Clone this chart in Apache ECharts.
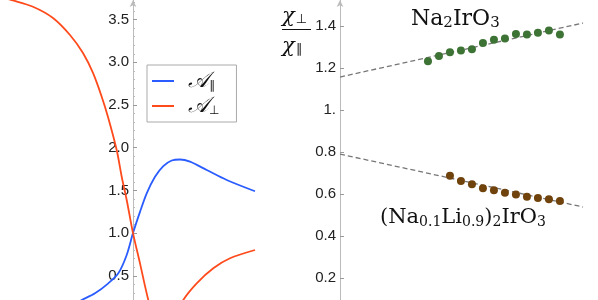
<!DOCTYPE html>
<html><head><meta charset="utf-8">
<script src="https://cdn.jsdelivr.net/npm/echarts@6/dist/echarts.min.js"></script>
<style>html,body{margin:0;padding:0;background:#fff}#c{width:598px;height:300px}</style>
</head><body><div id="c"></div>
<script>
// Left panel: A_parallel and A_perp curves (arbitrary x units, axis at x=0)
const paraX = [-2.66, -1.46, -1.026, -0.76, -0.494, -0.294, -0.126, 0, 0.14, 0.274, 0.44, 0.606, 0.774, 0.94, 1.14, 1.474, 1.874, 2.44];
const paraY = [0.01, 0.088, 0.217, 0.295, 0.412, 0.529, 0.744, 1.0, 1.249, 1.466, 1.660, 1.785, 1.850, 1.862, 1.836, 1.739, 1.622, 1.490];
const perpX = [-2.66, -2.426, -2.0, -1.6, -1.26, -1.0, -0.8, -0.626, -0.5, -0.326, -0.226, -0.126, 0, 0.14, 0.306, 0.44, 0.64, 0.84, 1.006, 1.274, 1.606, 1.94, 2.44];
const perpY = [3.765, 3.729, 3.651, 3.519, 3.320, 3.109, 2.875, 2.597, 2.360, 1.973, 1.660, 1.388, 1.0, 0.646, 0.217, -0.04, -0.13, 0.006, 0.217, 0.412, 0.588, 0.705, 0.802];
const leftTicks = [0.5, 1.0, 1.5, 2.0, 2.5, 3.0, 3.5];
const leftMinor = [0.3, 0.4, 0.6, 0.7, 0.8, 0.9, 1.1, 1.2, 1.3, 1.4, 1.6, 1.7, 1.8, 1.9, 2.1, 2.2, 2.3, 2.4, 2.6, 2.7, 2.8, 2.9, 3.1, 3.2, 3.3, 3.4, 3.6, 3.7];

// Right panel: chi_perp / chi_par data
const naX = [80, 90, 100, 110, 120, 130, 140, 150, 160, 170, 180, 190, 200];
const naY = [1.232, 1.257, 1.275, 1.283, 1.289, 1.319, 1.335, 1.341, 1.362, 1.359, 1.368, 1.378, 1.360];
const liX = [100, 110, 120, 130, 140, 150, 160, 170, 180, 190, 200];
const liY = [0.687, 0.662, 0.646, 0.627, 0.618, 0.606, 0.597, 0.587, 0.581, 0.575, 0.567];
const fitX = [0, 221];
const naFitY = [1.157, 1.414];
const liFitY = [0.790, 0.538];
const rightTicks = [0.2, 0.4, 0.6, 0.8, 1.0, 1.2, 1.4];

const zip = (a, b) => a.map((v, i) => [v, b[i]]);
const nameP = '𝒜∥', nameQ = '𝒜⊥';

const chart = echarts.init(document.getElementById('c'), null, {renderer: 'canvas'});
const labelStyle = {fontSize: 15, color: '#222', fontFamily: 'Liberation Sans, Arial, sans-serif'};
const axisLineStyle = {color: '#bbb', width: 1};
const LMIN = 0.2166, LMAX = 3.7295;

chart.setOption({
  animation: false,
  backgroundColor: '#fff',
  grid: [
    {left: 0, top: 0, width: 300, height: 300, outerBoundsMode: 'none', containLabel: false},
    {left: 340, top: 0, width: 243, height: 300, outerBoundsMode: 'none', containLabel: false},
    {left: 133, top: 0, width: 167, height: 300, outerBoundsMode: 'none', containLabel: false}
  ],
  xAxis: [
    {gridIndex: 0, type: 'value', min: -2.66, max: 3.34, show: false},
    {gridIndex: 1, type: 'value', min: 0, max: 221, show: false},
    {gridIndex: 2, type: 'value', min: 0, max: 3.34, show: false}
  ],
  yAxis: [
    {gridIndex: 0, type: 'value', min: LMIN, max: LMAX, show: false},
    {gridIndex: 2, type: 'value', position: 'left', min: LMIN, max: LMAX,
     axisLine: {show: true, onZero: false, lineStyle: axisLineStyle, symbol: ['none', 'arrow'], symbolSize: [5, 7]},
     axisTick: {show: true, inside: true, length: 4, customValues: leftTicks, lineStyle: {color: '#999'}},
     axisLabel: Object.assign({customValues: leftTicks, margin: 4, formatter: v => v.toFixed(1)}, labelStyle),
     splitLine: {show: false}},
    {gridIndex: 2, type: 'value', position: 'left', min: LMIN, max: LMAX,
     axisLine: {show: false, onZero: false},
     axisTick: {show: true, inside: true, length: 2, customValues: leftMinor, lineStyle: {color: '#bbb'}},
     axisLabel: {show: false}, splitLine: {show: false}},
    {gridIndex: 1, type: 'value', position: 'left', min: 0.0952, max: 1.5238,
     axisLine: {show: true, onZero: false, lineStyle: axisLineStyle, symbol: ['none', 'arrow'], symbolSize: [5, 7]},
     axisTick: {show: true, inside: true, length: 4, customValues: rightTicks, lineStyle: {color: '#999'}},
     axisLabel: Object.assign({customValues: rightTicks, margin: 4, formatter: v => (Math.abs(v - 1) < 1e-9 ? '1.' : v.toFixed(1))}, labelStyle),
     splitLine: {show: false}}
  ],
  legend: {
    orient: 'vertical', left: 147, top: 65,
    padding: [5, 17, 5, 5], itemWidth: 22, itemHeight: 2, itemGap: 3,
    icon: 'rect',
    backgroundColor: '#fff', borderColor: '#aaa', borderWidth: 1,
    data: [nameP, nameQ],
    formatter: n => '{a|𝒜}{s|' + n.slice(-1) + '}',
    textStyle: {rich: {
      a: {fontSize: 22, fontFamily: 'DejaVu Serif, DejaVu Sans, serif', fontStyle: 'italic', color: '#111', padding: [0, 0, 0, 9]},
      s: {fontSize: 12, fontFamily: 'DejaVu Sans, sans-serif', color: '#111', padding: [10, 0, 0, 0]}
    }}
  },
  series: [
    {name: nameP, type: 'line', xAxisIndex: 0, yAxisIndex: 0, data: zip(paraX, paraY), symbol: 'none', showSymbol: false,
     smooth: 0.3, lineStyle: {color: '#2a5cff', width: 1.8}, itemStyle: {color: '#2a5cff'}},
    {name: nameQ, type: 'line', xAxisIndex: 0, yAxisIndex: 0, data: zip(perpX, perpY), symbol: 'none', showSymbol: false,
     smooth: 0.3, lineStyle: {color: '#ff4a1c', width: 1.8}, itemStyle: {color: '#ff4a1c'}},
    {type: 'line', xAxisIndex: 1, yAxisIndex: 3, data: zip(fitX, naFitY), symbol: 'none', silent: true,
     lineStyle: {color: '#777', width: 1.3, type: [5, 3]}},
    {type: 'line', xAxisIndex: 1, yAxisIndex: 3, data: zip(fitX, liFitY), symbol: 'none', silent: true,
     lineStyle: {color: '#777', width: 1.3, type: [5, 3]}},
    {type: 'scatter', xAxisIndex: 1, yAxisIndex: 3, data: zip(naX, naY), symbolSize: 8, z: 5,
     itemStyle: {color: '#3d7334', opacity: 1}},
    {type: 'scatter', xAxisIndex: 1, yAxisIndex: 3, data: zip(liX, liY), symbolSize: 8, z: 5,
     itemStyle: {color: '#70420c', opacity: 1}}
  ],
  graphic: [
    {type: 'text', left: 411, top: 8, style: {
      text: 'Na{s|2}IrO{s|3}', fontSize: 22, fontFamily: 'DejaVu Serif, serif', fill: '#111',
      rich: {s: {fontSize: 15, fontFamily: 'DejaVu Serif, serif', fill: '#111', padding: [9, 0, 0, 0]}}}},
    {type: 'text', left: 380, top: 207, style: {
      text: '(Na{s|0.1}Li{s|0.9}){s|2}IrO{s|3}', fontSize: 21, fontFamily: 'DejaVu Serif, serif', fill: '#111',
      rich: {s: {fontSize: 14, fontFamily: 'DejaVu Serif, serif', fill: '#111', padding: [9, 0, 0, 0]}}}},
    {type: 'text', left: 282, top: 6, style: {
      text: '{c|χ}{s|⊥}', rich: {
        c: {fontSize: 21, fontFamily: 'DejaVu Serif, serif', fontStyle: 'italic', fill: '#111'},
        s: {fontSize: 13, fontFamily: 'DejaVu Sans, sans-serif', fill: '#111', padding: [6, 0, 0, 1]}}}},
    {type: 'line', shape: {x1: 282, y1: 29.5, x2: 311, y2: 29.5}, style: {stroke: '#111', lineWidth: 1}},
    {type: 'text', left: 282, top: 36, style: {
      text: '{c|χ}{s|∥}', rich: {
        c: {fontSize: 21, fontFamily: 'DejaVu Serif, serif', fontStyle: 'italic', fill: '#111'},
        s: {fontSize: 13, fontFamily: 'DejaVu Sans, sans-serif', fill: '#111', padding: [6, 0, 0, 1]}}}}
  ]
});
</script></body></html>
